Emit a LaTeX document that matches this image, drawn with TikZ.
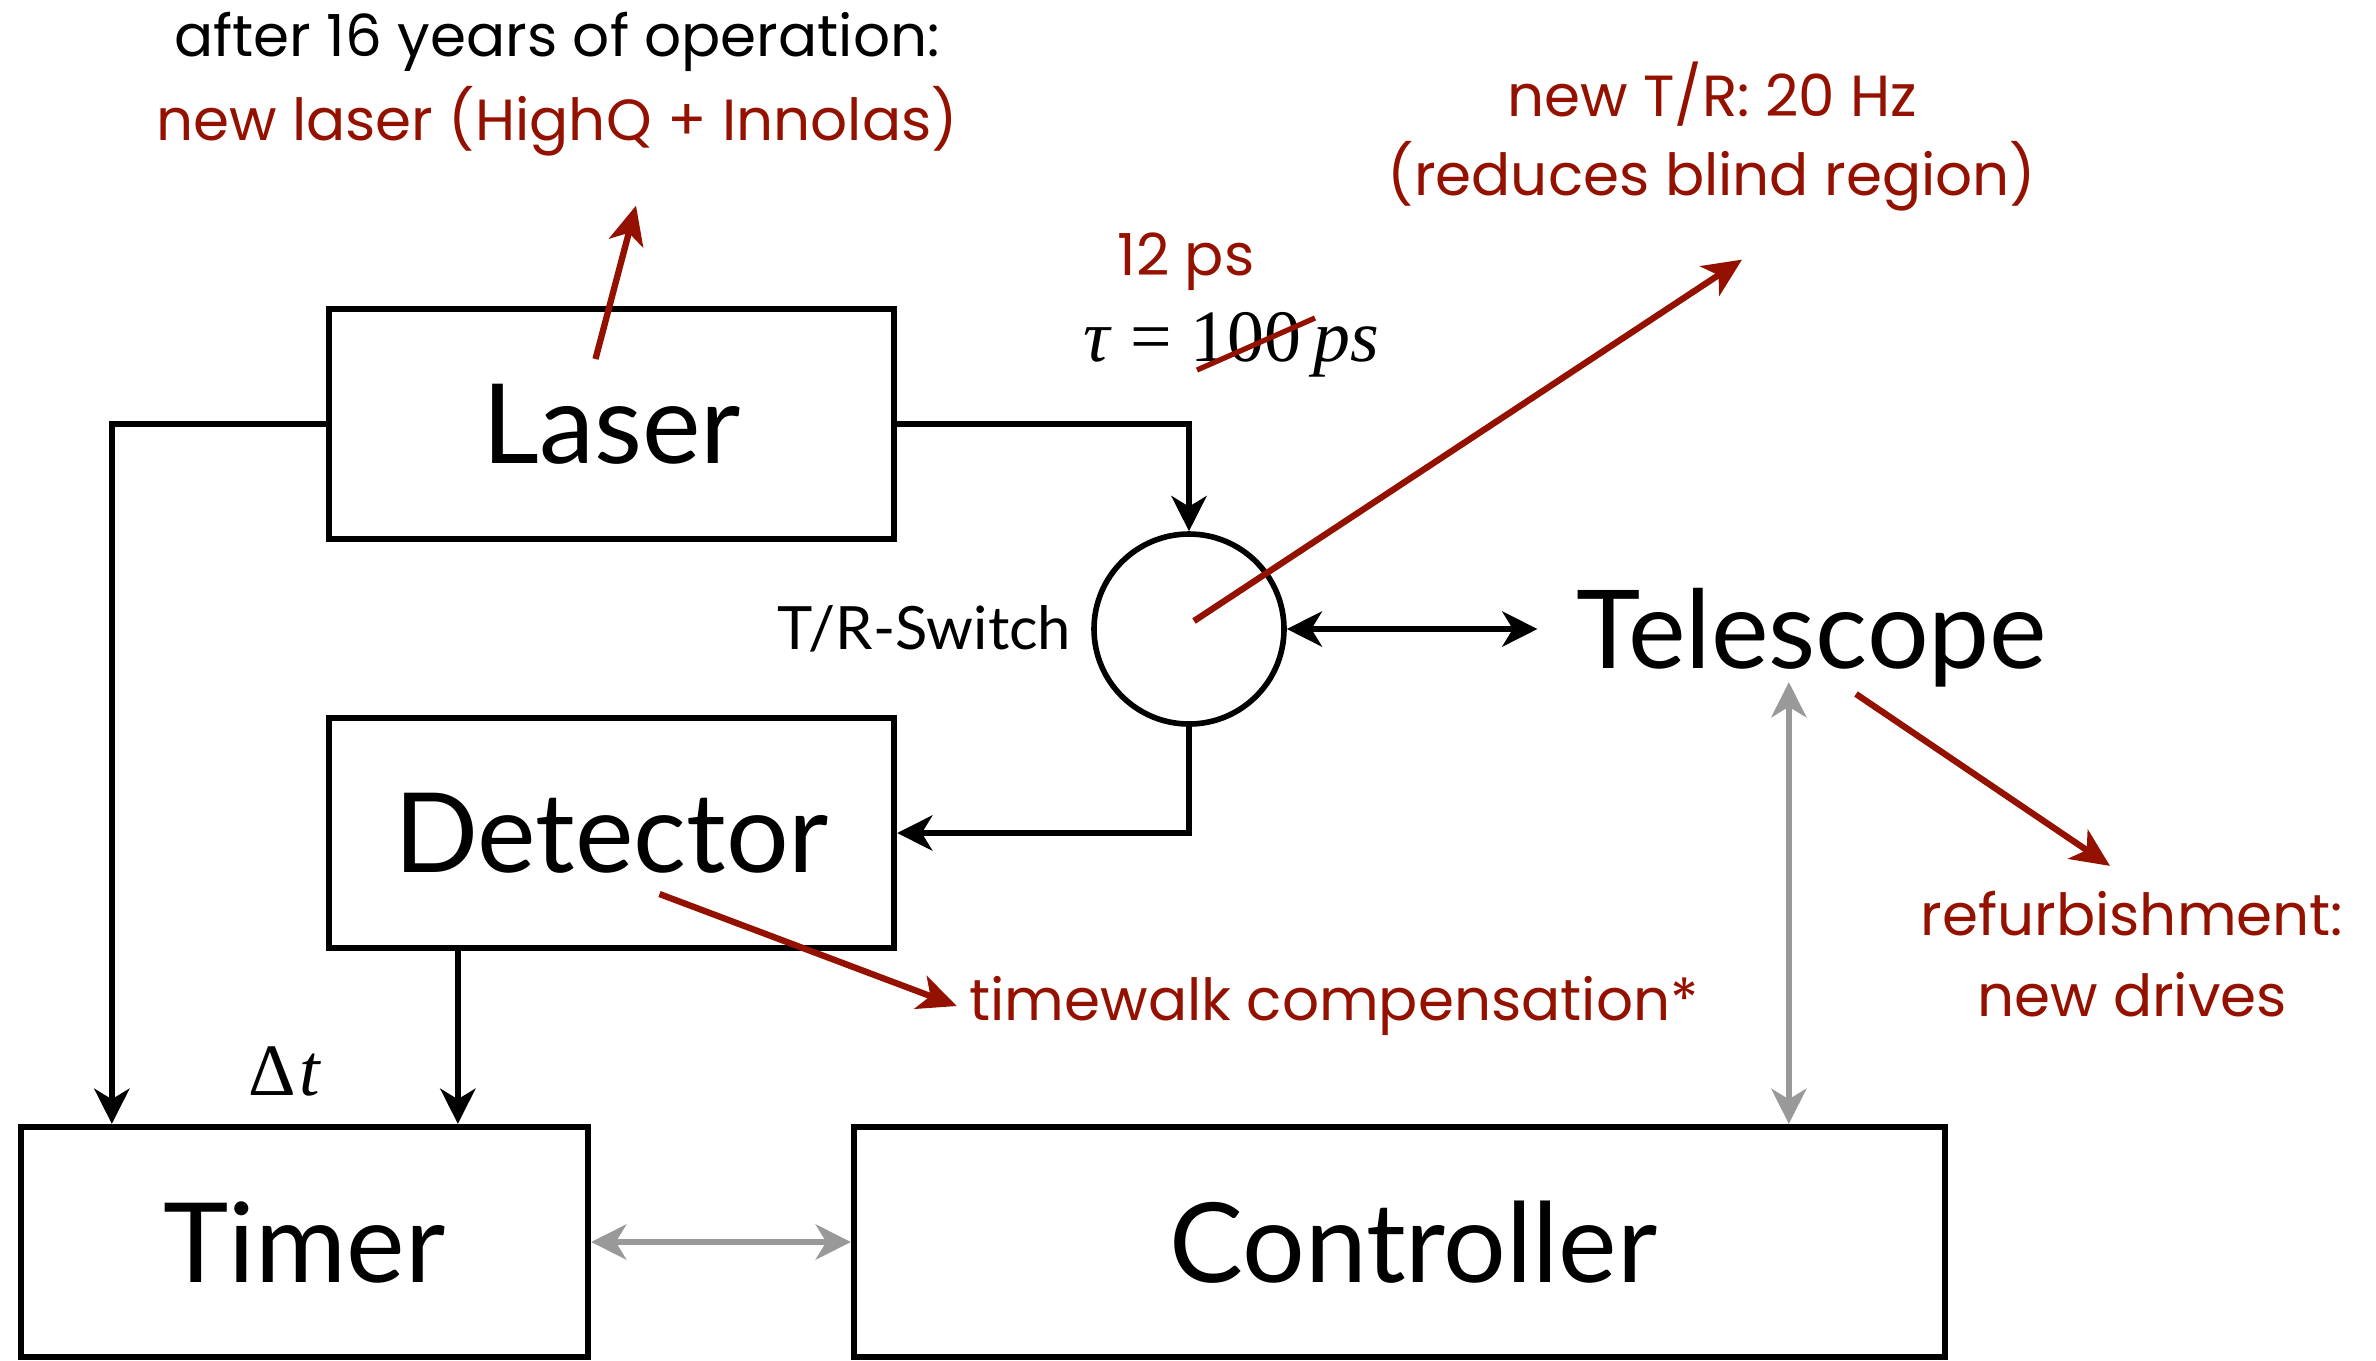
\documentclass[tikz,border=0pt]{standalone}
\usepackage{fontspec}
\setmainfont{Lato}
\newfontfamily\notefont{Poppins}
\newfontfamily\symbfont{Liberation Serif}
\usetikzlibrary{arrows.meta,calc}
\definecolor{notered}{RGB}{148,17,0}
\definecolor{linkgray}{RGB}{153,153,153}

\tikzset{
  block/.style={draw, line width=1.8pt, rectangle, inner sep=0pt,
                font=\fontsize{31.5}{36}\selectfont},
  wire/.style={line width=1.6pt, -{Stealth[length=10pt,width=10pt,inset=3pt]}},
  dwire/.style={line width=1.6pt, {Stealth[length=10pt,width=10pt,inset=3pt]}-{Stealth[length=10pt,width=10pt,inset=3pt]}},
  glink/.style={line width=1.6pt, linkgray, {Stealth[length=10pt,width=10pt,inset=3pt]}-{Stealth[length=10pt,width=10pt,inset=3pt]}},
  note/.style={font=\notefont\fontsize{16.5}{20}\selectfont, inner sep=0pt},
  rednote/.style={note, text=notered},
  notearrow/.style={line width=1.8pt, notered, -{Stealth[length=11pt,width=10pt,inset=3pt]}},
  formula/.style={font=\symbfont\fontsize{21}{24}\selectfont, inner sep=0pt},
}

\begin{document}
\begin{tikzpicture}[x=0.1mm, y=-0.1mm]
  \useasboundingbox (0,0) rectangle (2376,1360);

  % main blocks
  \node[block, minimum width=565*0.1mm, minimum height=230*0.1mm] (laser) at (611.5,424) {Laser};
  \node[block, minimum width=565*0.1mm, minimum height=230*0.1mm] (detector) at (611.5,833) {Detector};
  \node[block, minimum width=567*0.1mm, minimum height=230*0.1mm] (timer) at (304.5,1242) {Timer};
  \node[block, minimum width=1091*0.1mm, minimum height=230*0.1mm] (controller) at (1399.5,1242) {\hspace*{8pt}Controller};

  % transmit/receive switch
  \node[draw, circle, line width=1.6pt, minimum size=190*0.1mm, inner sep=0pt] (trs) at (1189,629) {};
  \node[font=\fontsize{17}{20}\selectfont, inner sep=0pt] (trlabel) at (924,629) {T/R-Switch};
  \node[font=\fontsize{31}{36}\selectfont, inner sep=0pt] (tele) at (1812,638) {Telescope};

  % signal paths
  \draw[wire] (laser.east) -| (trs.north);
  \coordinate (ltap) at ($(timer.north west)+(94,0)$);
  \draw[wire] (laser.west) -| (ltap);
  \coordinate (dtap) at ($(detector.south west)+(132,0)$);
  \draw[wire] (dtap) -- (dtap |- timer.north);
  \draw[wire] (trs.south) |- (detector.east);
  \draw[dwire, shorten >=11pt] (trs.east) -- (tele.west |- trs.east);
  \draw[glink] (timer.east) -- (controller.west);
  \coordinate (ctap) at ($(controller.north west)+(938,0)$);
  \coordinate (ttop) at (ctap |- tele.south);
  \draw[glink] ($(ttop)+(0,-6)$) -- (ctap);

  % labels in the diagram
  \node[formula] (dt) at (285,1071) {Δ\kern1pt\textit{t}};
  \node[formula] (tau) at (1231,345) {\textit{τ} = 100\,\textit{ps}};
  \draw[notered, line width=1.5pt] ($(tau.center)+(-34,25)$) -- ($(tau.center)+(84,-27)$);
  \node[rednote] (twelve) at (1186,262) {12 ps};

  % annotations
  \node[note] (after) at (557,42) {after 16 years of operation:};
  \node[rednote] (newlaser) at (557,121) {new laser (HighQ + Innolas)};
  \node[rednote] (newtr) at (1712,94) {new T/R: 20 Hz};
  \node[rednote] (blind) at (1712,176) {(reduces blind region)};
  \node[rednote] (timewalk) at (1334,1006) {timewalk compensation*};
  \node[rednote] (refurb) at (2132,914) {refurbishment:};
  \node[rednote] (drives) at (2132,995) {new drives};

  \draw[notearrow] ($(laser.center)+(-16,-65)$) -- ($(newlaser.south)+(79,49)$);
  \draw[notearrow] ($(trs.center)+(5,-8)$) -- ($(blind.south)+(30,48)$);
  \draw[notearrow] ($(detector.center)+(48,61)$) -- ($(timewalk.west)+(-12,0)$);
  \draw[notearrow] ($(tele.center)+(44,56)$) -- ($(refurb.north)+(-22,-25)$);
\end{tikzpicture}
\end{document}
